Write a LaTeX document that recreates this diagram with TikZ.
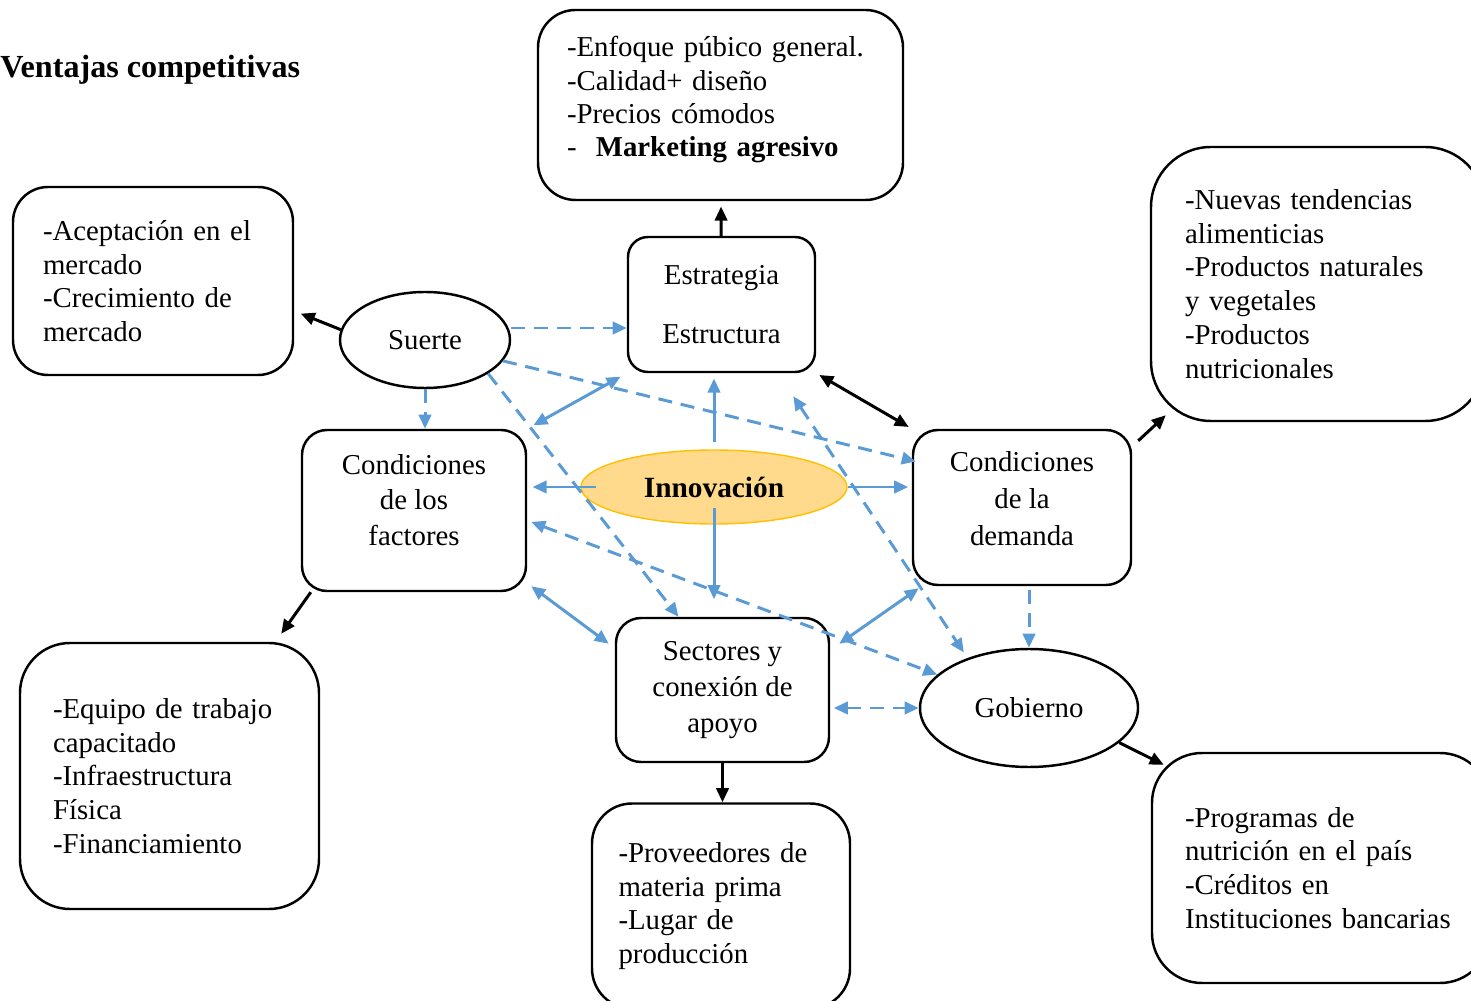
\documentclass[tikz,border=0pt]{standalone}
\usepackage{fontspec}
\setmainfont{Liberation Serif}
\usetikzlibrary{arrows.meta,shapes.geometric}
\definecolor{azul}{RGB}{91,155,213}
\definecolor{naranja}{RGB}{255,217,140}
\definecolor{dorado}{RGB}{255,192,0}

\begin{document}
\begin{tikzpicture}[>={Triangle[length=8pt,width=7pt]},
  txt/.style={font=\fontsize{16.4}{19.2}\selectfont},
  caja/.style={txt,draw,line width=1.4pt,rounded corners=#1,align=left},
  caja/.default=0.8cm,
  cajac/.style={draw,line width=1.4pt,rounded corners=0.5cm,align=center,font=\fontsize{16.4}{20.4}\selectfont},
  arriba/.style={execute at end node={\rule[-#1]{0pt}{0pt}}},
  elip/.style={txt,ellipse,draw,line width=1.4pt,inner sep=0pt},
  negra/.style={line width=1.7pt},
  azulf/.style={azul,line width=1.7pt},
  azuld/.style={azulf,dash pattern=on 8pt off 5pt}]
\useasboundingbox (0,0) rectangle (29.42,20);
\clip (0,0) rectangle (29.42,20);

\node[font=\fontsize{18.3}{22}\selectfont\bfseries,anchor=west,inner sep=0pt] (titulo) at (0,18.6) {Ventajas competitivas};
\node[caja=0.75cm,arriba=9.5pt,font=\fontsize{16.4}{18.9}\selectfont,text width=6.14cm,inner xsep=0.58cm,minimum height=3.8cm] (mkt) at (14.41,17.9) {-Enfoque púbico general.\\-Calidad+ diseño\\-Precios cómodos\\-\ \ \textbf{Marketing agresivo}};
\node[caja=0.4cm,align=center,minimum width=3.74cm,minimum height=2.7cm] (estr) at (14.43,13.91) {Estrategia\\[14pt]Estructura};
\node[elip,minimum width=3.4cm,minimum height=1.92cm] (suerte) at (8.5,13.2) {Suerte};
\node[caja=0.7cm,text width=4.4cm,inner xsep=0.6cm,minimum height=3.76cm] (acept) at (3.06,14.38) {-Aceptación en el\\mercado\\-Crecimiento de\\mercado};
\node[cajac,arriba=12pt,minimum width=4.48cm,minimum height=3.22cm] (factores) at (8.28,9.79) {Condiciones\\de los\\factores};
\node[ellipse,draw=dorado,fill=naranja,line width=0.8pt,minimum width=5.32cm,minimum height=1.48cm,inner sep=0pt,font=\fontsize{16.7}{19.4}\selectfont\bfseries] (innov) at (14.28,10.26) {Innovación};
\node[cajac,arriba=10pt,font=\fontsize{16.4}{21}\selectfont,minimum width=4.36cm,minimum height=3.1cm] (demanda) at (20.44,9.85) {Condiciones\\de la\\demanda};
\node[caja=1.2cm,text width=5.32cm,inner xsep=0.68cm,minimum height=5.48cm] (tendencias) at (26.36,14.32) {-Nuevas tendencias\\alimenticias\\-Productos naturales\\y vegetales\\-Productos\\nutricionales};
\node[cajac,minimum width=4.26cm,minimum height=2.88cm] (sectores) at (14.45,6.2) {Sectores y\\conexión de\\apoyo};
\node[elip,minimum width=4.36cm,minimum height=2.36cm] (gobierno) at (20.58,5.84) {Gobierno};
\node[caja=1cm,text width=4.66cm,inner xsep=0.66cm,minimum height=5.32cm] (equipo) at (3.39,4.48) {-Equipo de trabajo\\capacitado\\-Infraestructura\\Física\\-Financiamiento};
\node[caja=0.8cm,text width=4.1cm,inner xsep=0.53cm,minimum height=4.1cm] (proveedores) at (14.42,1.88) {-Proveedores de\\materia prima\\-Lugar de\\producción};
\node[caja=1cm,text width=5.44cm,inner xsep=0.66cm,minimum height=4.6cm] (programas) at (26.42,2.64) {-Programas de\\nutrición en el país\\-Créditos en\\Instituciones bancarias};

\draw[negra,->,shorten >=3pt] (estr) -- (mkt);
\draw[negra,->,shorten >=4pt] (suerte.173) -- (acept.-12);
\draw[negra,<->,shorten <=2pt,shorten >=2pt] (estr.south east) -- (demanda.north west);
\draw[negra,->] ([shift={(0.12,-0.24)}]demanda.north east) -- ([shift={(0.32,0.14)}]tendencias.south west);
\draw[negra,->] ([xshift=0.2cm]factores.south west) -- ([shift={(-0.78,0.16)}]equipo.north east);
\draw[negra,->] (sectores.south) -- (sectores.south |- proveedores.north);
\draw[negra,->] (gobierno.-21) -- ([shift={(0.26,-0.26)}]programas.north west);

\draw[azulf,->,shorten >=3pt] ([yshift=0.14cm]innov.north) -- (innov.north |- estr.south);
\draw[azulf,->,shorten >=3pt] ([xshift=0.32cm]innov.west) -- (innov.west -| factores.east);
\draw[azulf,->,shorten >=2pt] (innov.east) -- (innov.east -| demanda.west);
\draw[azulf,->,shorten >=10pt] ([yshift=0.34cm]innov.south) -- (innov.south |- sectores.north);
\draw[azulf,<->,shorten <=4pt,shorten >=4pt] (factores.north east) -- (estr.south west);
\draw[azulf,<->] ([shift={(0.08,0.12)}]factores.south east) -- ([shift={(-0.12,-0.54)}]sectores.north west);
\draw[azulf,<->] ([shift={(0.18,-0.54)}]sectores.north east) -- ([shift={(0.14,-0.04)}]demanda.south west);

\draw[azuld,->] ([yshift=0.24cm]suerte.east) -- ([yshift=-0.47cm]estr.west);
\draw[azuld,->] (suerte.-15) -- ([shift={(0.08,0.92)}]demanda.west);
\draw[azuld,->] (suerte.south) -- (suerte.south |- factores.north);
\draw[azuld,->] (suerte.-28) -- ([xshift=-0.88cm]sectores.north);
\draw[azuld,<->] ([shift={(0.08,-0.23)}]factores.east) -- (gobierno.160);
\draw[azuld,<->] ([shift={(-0.46,-0.46)}]estr.south east) -- ([shift={(-0.1,0.1)}]gobierno.140);
\draw[azuld,->,shorten <=2pt] (gobierno.north |- demanda.south) -- (gobierno.north);
\draw[azuld,<->,shorten <=2pt] (sectores.east |- gobierno.west) -- (gobierno.west);
\end{tikzpicture}
\end{document}
